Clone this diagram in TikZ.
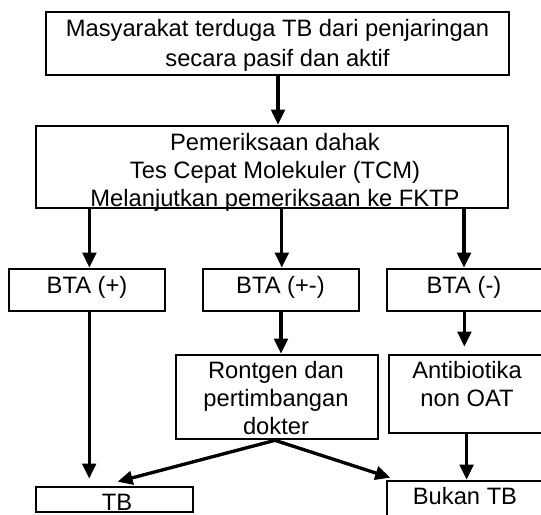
\documentclass[tikz,border=0pt]{standalone}
\usepackage{fontspec}
\setmainfont{Liberation Sans}
\usetikzlibrary{arrows.meta}

\tikzset{
  box/.style={draw=black, line width=1.5pt},
  txt/.style={align=center, font=\fontsize{13.5}{16}\selectfont},
  arr/.style={draw=black, line width=1.9pt, -{Triangle[length=0.3cm,width=0.27cm]}}
}

\begin{document}
\begin{tikzpicture}[scale=0.2]
\tikzstyle{every node}+=[inner sep=0pt]
\useasboundingbox (0,0) rectangle (54.1,-51.4);
\node [box, minimum width=9.26cm, minimum height=1.26cm] (msy) at (27.75,-4.35) {};
\node [txt, font=\fontsize{13.5}{17}\selectfont] (msytxt) at (27.75,-4.5) {Masyarakat terduga TB dari penjaringan\\secara pasif dan aktif};
\node [box, minimum width=9.44cm, minimum height=1.64cm] (pem) at (27.2,-16.7) {};
\node [txt] (pemtxt) at (27.5,-17.2) {Pemeriksaan dahak\\Tes Cepat Molekuler (TCM)\\Melanjutkan pemeriksaan ke FKTP};
\node [box, minimum width=3.12cm, minimum height=0.84cm] (btap) at (8.7,-29) {};
\node [txt] (btaptxt) at (8.7,-28.7) {BTA (+)};
\node [box, minimum width=3.12cm, minimum height=0.84cm] (btapm) at (28.1,-29) {};
\node [txt] (btapmtxt) at (28.05,-28.7) {BTA (+-)};
\node [box, minimum width=3.12cm, minimum height=0.84cm] (btam) at (46.5,-29) {};
\node [txt] (btamtxt) at (46.4,-28.7) {BTA (-)};
\node [box, minimum width=4.04cm, minimum height=1.68cm] (ront) at (27.7,-39.7) {};
\node [txt] (ronttxt) at (27.6,-39.8) {Rontgen dan\\pertimbangan\\dokter};
\node [box, minimum width=3.12cm, minimum height=1.56cm] (anti) at (46.7,-39.4) {};
\node [txt] (antitxt) at (46.7,-38.4) {Antibiotika\\non OAT};
\node [box, minimum width=3.14cm, minimum height=0.5cm] (tb) at (11.45,-49.95) {};
\node [txt] (tbtxt) at (11.7,-50.2) {TB};
\node [box, minimum width=3.12cm, minimum height=0.9cm] (bukan) at (46.5,-50.35) {};
\node [txt] (bukantxt) at (46.5,-49.65) {Bukan TB};
\draw [arr] ([xshift=0.05cm]msy.south) -- ([xshift=0.05cm]msy.south |- pem.north);
\draw [arr] ([xshift=0.24cm]btap.north |- pem.south) -- ([xshift=0.24cm]btap.north);
\draw [arr] ([xshift=0.08cm]btapm.north |- pem.south) -- ([xshift=0.08cm]btapm.north);
\draw [arr] ([xshift=-0.1cm]btam.north |- pem.south) -- ([xshift=-0.1cm]btam.north);
\draw [arr, shorten >=0.14cm] ([xshift=0.22cm]btap.south) -- ([xshift=0.22cm]btap.south |- tb.north);
\draw [arr] (btapm.south) -- (btapm.south |- ront.north);
\draw [arr, shorten >=0.14cm] ([xshift=-0.06cm]btam.south) -- ([xshift=-0.06cm]btam.south |- anti.north);
\draw [arr] ([xshift=-0.04cm]anti.south) -- ([xshift=-0.04cm]anti.south |- bukan.north);
\draw [arr] ([xshift=-0.2cm]ront.south) -- ([xshift=0.31cm,yshift=0.4cm]tb.north);
\draw [arr] ([xshift=-0.2cm]ront.south) -- ([xshift=0.46cm,yshift=0.2cm]bukan.north west);
\end{tikzpicture}
\end{document}
